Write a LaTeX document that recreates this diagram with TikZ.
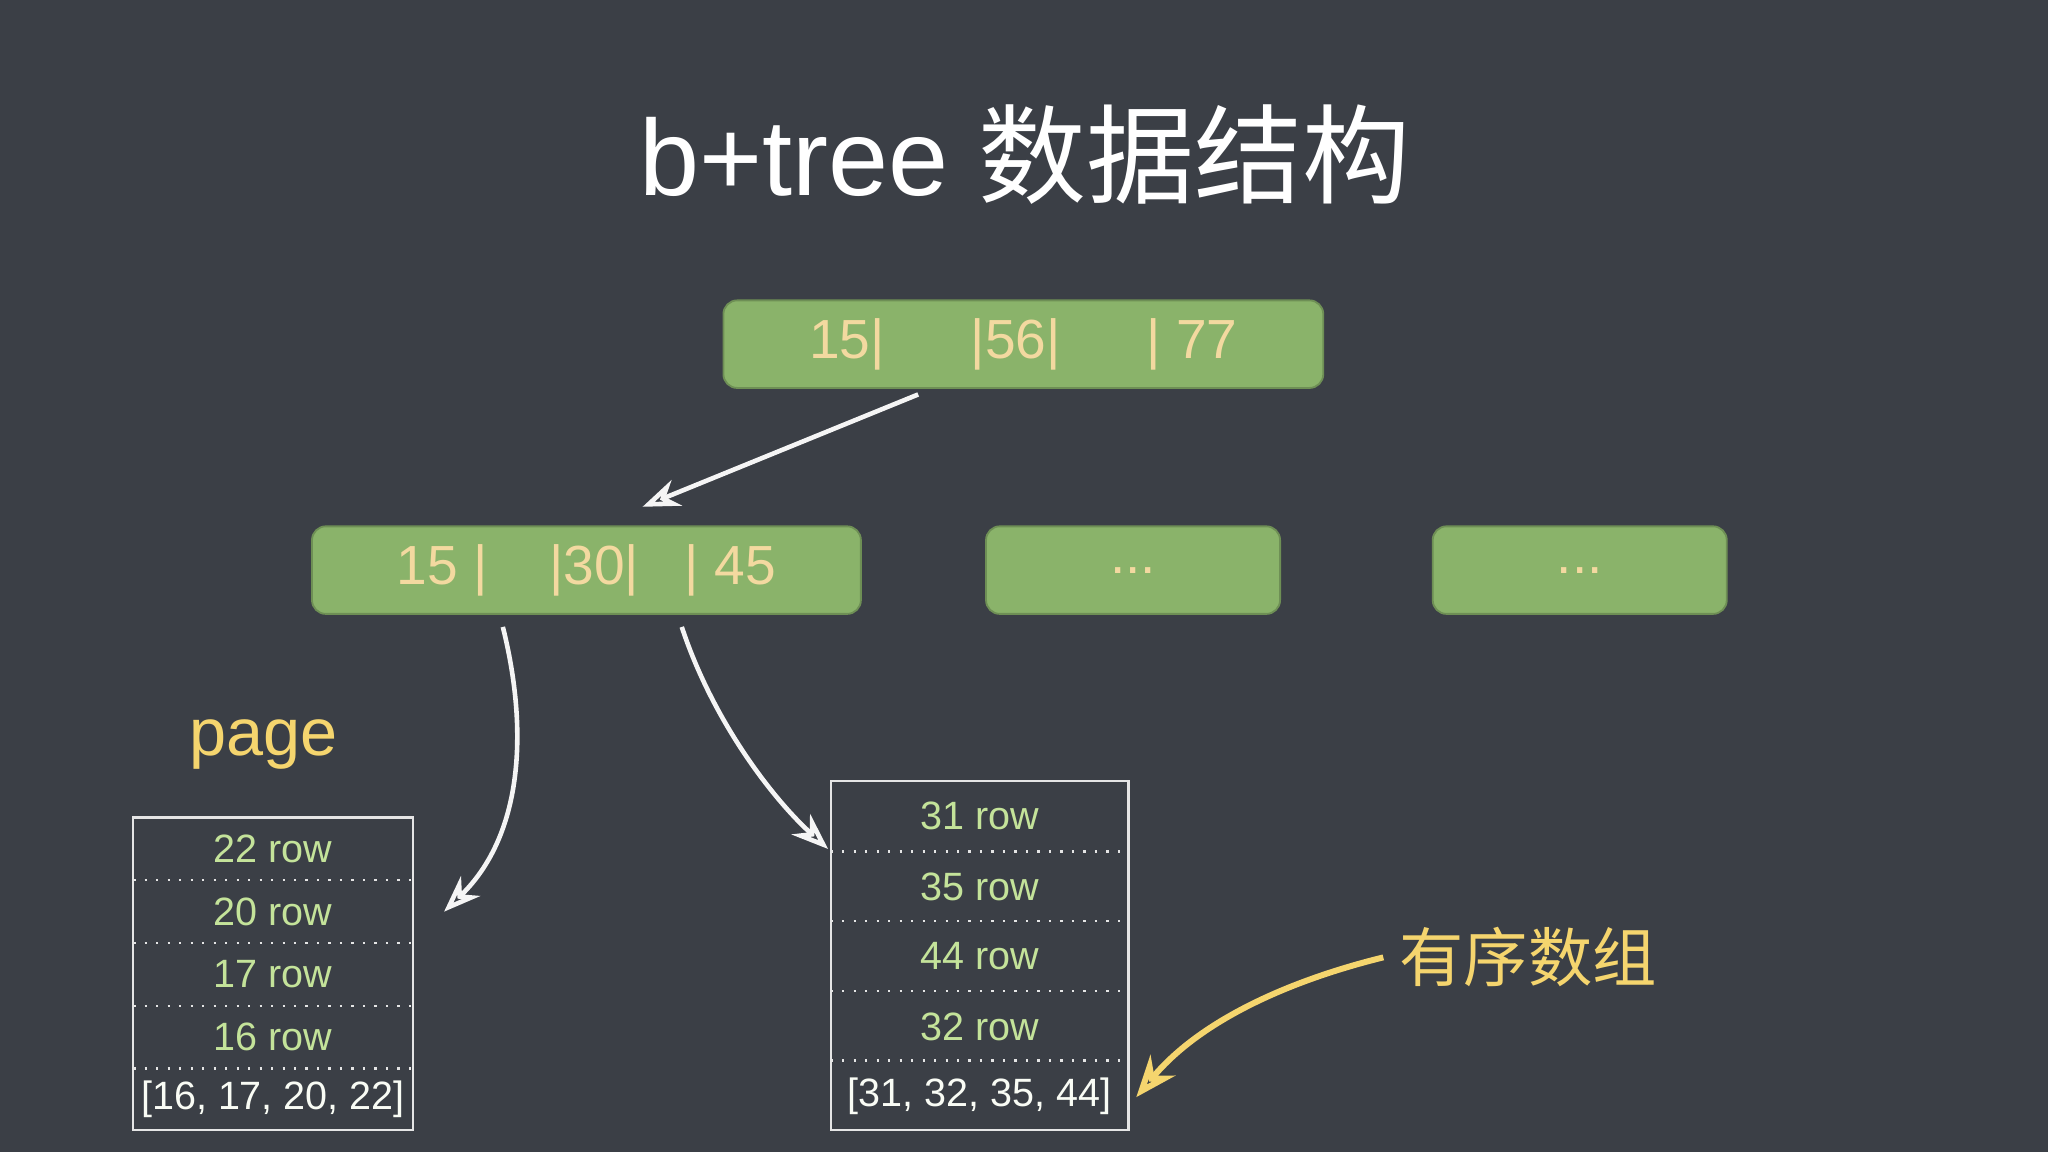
\documentclass[tikz,border=0pt]{standalone}
\usepackage{fontspec}
\setmainfont{Liberation Sans}
\newfontfamily\cjk{Noto Sans CJK SC}
\usetikzlibrary{arrows.meta}
\definecolor{bg}{HTML}{3B3F46}
\definecolor{grn}{HTML}{8AB36A}
\definecolor{key}{HTML}{F3D9A0}
\definecolor{rowc}{HTML}{C4E39A}
\definecolor{ylw}{HTML}{F5D56E}
\begin{document}
\begin{tikzpicture}[x=0.01cm,y=-0.01cm,
  gbox/.style={draw=grn!80!black,fill=grn,rounded corners=3pt,inner sep=0pt,text=key,font=\fontsize{12pt}{14pt}\selectfont},
  chalk/.style={draw=white!92!gray,line width=1pt,-{Stealth[length=8pt,width=6pt,open]}},
  cell/.style={font=\fontsize{8.6pt}{10pt}\selectfont,text=rowc},
  tbl/.style={draw=white!80!gray,line width=0.5pt},
  sep/.style={draw=white!80!gray,dotted,line width=0.5pt}]
\fill[bg] (0,0) rectangle (1568,882);
\useasboundingbox (0,0) rectangle (1568,882);
\node[text=white,font=\fontsize{23.5pt}{26pt}\selectfont] (title) at (785,118) {b+tree {\cjk 数据结构}};
\node[gbox,minimum width=4.59cm,minimum height=0.67cm] (root) at (783.5,263.5) {\raisebox{0pt}{15|\quad\ \ |56|\quad\ \ | 77}};
\node[gbox,minimum width=4.2cm,minimum height=0.67cm] (m1) at (449,436.5) {15 |\ \ \ \ |30|\ \ \ | 45};
\node[gbox,minimum width=2.25cm,minimum height=0.67cm] (m2) at (867.5,436.5) {...};
\node[gbox,minimum width=2.25cm,minimum height=0.67cm] (m3) at (1209.5,436.5) {...};
\coordinate (r1) at (703,302);
\coordinate (m1a) at (492,388);
\draw[chalk] (r1) -- (m1a);
\coordinate (s1) at (385,480);
\coordinate (e1) at (340,698);
\draw[chalk] (s1) .. controls (405,560) and (400,640) .. (e1);
\coordinate (s2) at (522,480);
\coordinate (e2) at (634,650);
\draw[chalk] (s2) .. controls (545,550) and (590,610) .. (e2);
\node[text=ylw,font=\fontsize{14.5pt}{17pt}\selectfont] (page) at (202,570) {page};
% left table
\draw[tbl] (102,626) rectangle (316,865);
\foreach \y in {674,722,770,818} \draw[sep] (102,\y) -- (316,\y);
\node[cell] (l1) at (209,650) {22 row};
\node[cell] (l2) at (209,698) {20 row};
\node[cell] (l3) at (209,746) {17 row};
\node[cell] (l4) at (209,794) {16 row};
\node[cell,text=white!90!rowc] (l5) at (209,842) {[16, 17, 20, 22]};
% right table
\draw[tbl] (636,598) rectangle (864,865);
\foreach \y in {652,705,759,812} \draw[sep] (636,\y) -- (864,\y);
\node[cell] (r1n) at (750,625) {31 row};
\node[cell] (r2n) at (750,679) {35 row};
\node[cell] (r3n) at (750,732) {44 row};
\node[cell] (r4n) at (750,786) {32 row};
\node[cell,text=white!90!rowc] (r5n) at (750,839) {[31, 32, 35, 44]};
\node[text=ylw,font=\cjk\fontsize{14pt}{16pt}\selectfont] (ord) at (1170,733) {有序数组};
\coordinate (o2) at (870,840);
\draw[draw=ylw,line width=1.3pt,-{Stealth[length=9pt,width=7pt,open]}] (ord.west) .. controls (990,750) and (920,780) .. (o2);
\end{tikzpicture}
\end{document}
